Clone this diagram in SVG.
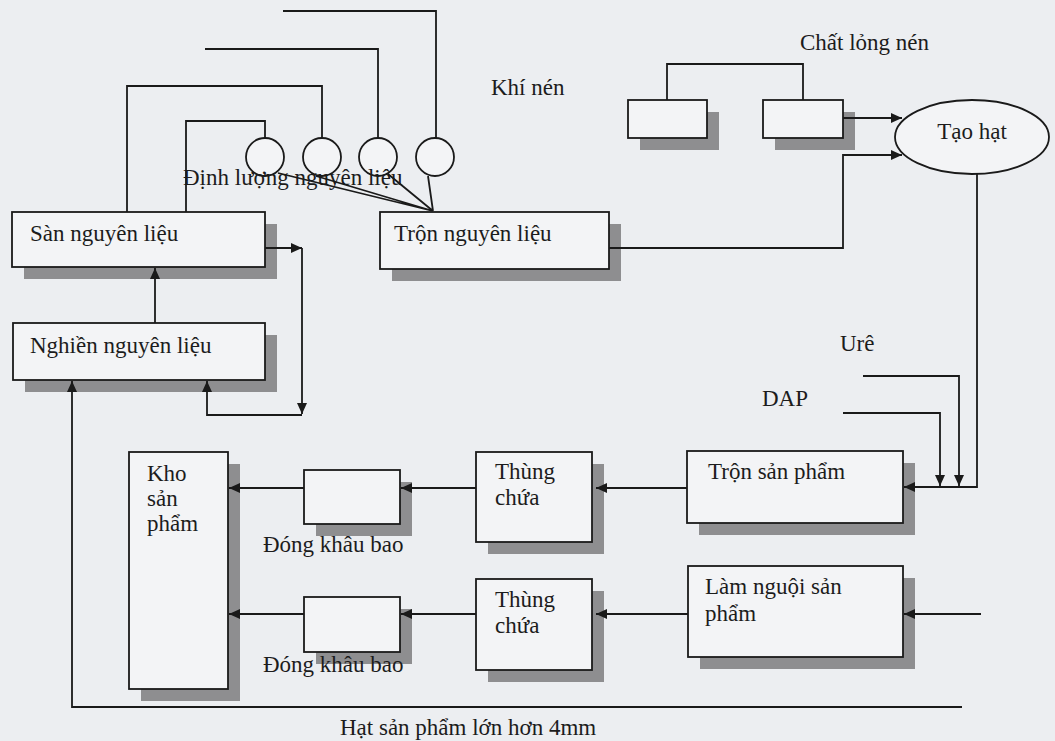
<svg xmlns="http://www.w3.org/2000/svg" width="1055" height="741" viewBox="0 0 1055 741">
<style>
.bg{fill:#eceef1}
.box{fill:#f3f4f6;stroke:#1a1a1a;stroke-width:1.8}
.sh{fill:#8e8e90}
.ln{fill:none;stroke:#1a1a1a;stroke-width:1.8}
.t{font-family:"Liberation Serif","Times New Roman",serif;font-size:23px;fill:#1c1c1c}
</style>
<defs>
<marker id="ah" markerUnits="userSpaceOnUse" markerWidth="12" markerHeight="10" refX="11" refY="5" orient="auto">
<path d="M0,0 L11,5 L0,10 z" fill="#1a1a1a"/>
</marker>
</defs>
<rect class="bg" x="0" y="0" width="1055" height="741"/>

<g id="dinh-luong">
<circle class="box" cx="265" cy="157" r="19"/>
<circle class="box" cx="322" cy="157" r="19"/>
<circle class="box" cx="378" cy="157" r="19"/>
<circle class="box" cx="435" cy="157" r="19"/>
<text class="t" x="183" y="185">Định lượng nguyên liệu</text>
</g>

<g id="san-nguyen-lieu">
<rect class="sh" x="24" y="224" width="253" height="55"/>
<rect class="box" x="12" y="212" width="253" height="55"/>
<text class="t" x="30" y="241">Sàn nguyên liệu</text>
</g>

<g id="tron-nguyen-lieu">
<rect class="sh" x="392" y="224" width="229" height="57"/>
<rect class="box" x="380" y="212" width="229" height="57"/>
<text class="t" x="394" y="241">Trộn nguyên liệu</text>
</g>

<g id="nghien-nguyen-lieu">
<rect class="sh" x="25" y="335" width="252" height="57"/>
<rect class="box" x="13" y="323" width="252" height="57"/>
<text class="t" x="30" y="353">Nghiền nguyên liệu</text>
</g>

<g id="khi-nen">
<text class="t" x="491" y="95">Khí nén</text>
</g>

<g id="chat-long-nen">
<text class="t" x="800" y="50">Chất lỏng nén</text>
<rect class="sh" x="640" y="112" width="79" height="38"/>
<rect class="box" x="628" y="100" width="79" height="38"/>
<rect class="sh" x="775" y="112" width="80" height="38"/>
<rect class="box" x="763" y="100" width="80" height="38"/>
</g>

<g id="tao-hat">
<ellipse class="box" cx="972" cy="137" rx="77" ry="37"/>
<text class="t" x="972" y="139" text-anchor="middle">Tạo hạt</text>
</g>

<g id="ure">
<text class="t" x="840" y="351">Urê</text>
</g>
<g id="dap">
<text class="t" x="762" y="406">DAP</text>
</g>

<g id="tron-san-pham">
<rect class="sh" x="699" y="463" width="216" height="72"/>
<rect class="box" x="687" y="451" width="216" height="72"/>
<text class="t" x="708" y="479">Trộn sản phẩm</text>
</g>

<g id="lam-nguoi-san-pham">
<rect class="sh" x="700" y="578" width="215" height="91"/>
<rect class="box" x="688" y="566" width="215" height="91"/>
<text class="t" x="705" y="594">Làm nguội sản</text>
<text class="t" x="705" y="621">phẩm</text>
</g>

<g id="thung-chua-1">
<rect class="sh" x="488" y="464" width="116" height="90"/>
<rect class="box" x="476" y="452" width="116" height="90"/>
<text class="t" x="495" y="479">Thùng</text>
<text class="t" x="495" y="505">chứa</text>
</g>

<g id="thung-chua-2">
<rect class="sh" x="488" y="591" width="116" height="91"/>
<rect class="box" x="476" y="579" width="116" height="91"/>
<text class="t" x="495" y="607">Thùng</text>
<text class="t" x="495" y="633">chứa</text>
</g>

<g id="dong-khau-bao-1">
<rect class="sh" x="316" y="482" width="96" height="54"/>
<rect class="box" x="304" y="470" width="96" height="54"/>
<text class="t" x="263" y="552">Đóng khâu bao</text>
</g>

<g id="dong-khau-bao-2">
<rect class="sh" x="316" y="609" width="96" height="55"/>
<rect class="box" x="304" y="597" width="96" height="55"/>
<text class="t" x="263" y="672">Đóng khâu bao</text>
</g>

<g id="kho-san-pham">
<rect class="sh" x="141" y="464" width="99" height="237"/>
<rect class="box" x="129" y="452" width="99" height="237"/>
<text class="t" x="147" y="481">Kho</text>
<text class="t" x="147" y="506">sản</text>
<text class="t" x="147" y="531">phẩm</text>
</g>

<g id="hat-san-pham">
<text class="t" x="340" y="735">Hạt sản phẩm lớn hơn 4mm</text>
</g>

<g id="connectors">
<path class="ln" d="M283,11 H436 V138"/>
<path class="ln" d="M205,49 H378 V138"/>
<path class="ln" d="M127,212 V86 H322 V138"/>
<path class="ln" d="M186,212 V121 H265 V138"/>
<path class="ln" d="M278,173 L433,211 M316,176 L433,211 M388,174 L433,211 M428,176 L433,211"/>
<path class="ln" d="M265,248 H302" marker-end="url(#ah)"/>
<path class="ln" d="M302,248 V414" marker-end="url(#ah)"/>
<path class="ln" d="M302,415 H207 V381" marker-end="url(#ah)"/>
<path class="ln" d="M155,323 V268" marker-end="url(#ah)"/>
<path class="ln" d="M962,707 H72 V381" marker-end="url(#ah)"/>
<path class="ln" d="M667,100 V64 H803 V100"/>
<path class="ln" d="M843,118 H902" marker-end="url(#ah)"/>
<path class="ln" d="M609,248 H843 V155 H902" marker-end="url(#ah)"/>
<path class="ln" d="M977,173 V487 H904" marker-end="url(#ah)"/>
<path class="ln" d="M863,376 H959 V486" marker-end="url(#ah)"/>
<path class="ln" d="M843,413 H940 V486" marker-end="url(#ah)"/>
<path class="ln" d="M687,488 H596" marker-end="url(#ah)"/>
<path class="ln" d="M476,488 H401" marker-end="url(#ah)"/>
<path class="ln" d="M304,488 H229" marker-end="url(#ah)"/>
<path class="ln" d="M981,614 H904" marker-end="url(#ah)"/>
<path class="ln" d="M688,614 H596" marker-end="url(#ah)"/>
<path class="ln" d="M476,614 H401" marker-end="url(#ah)"/>
<path class="ln" d="M304,614 H229" marker-end="url(#ah)"/>
</g>
</svg>
